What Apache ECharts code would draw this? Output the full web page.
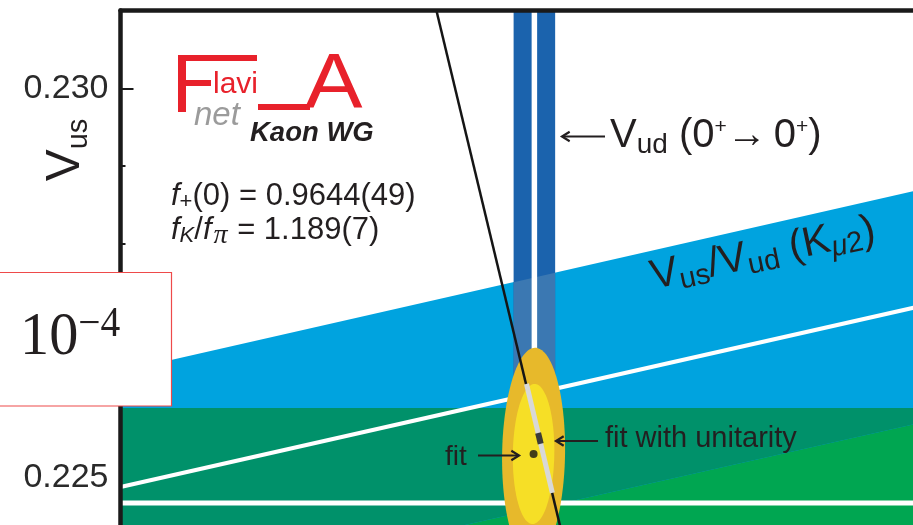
<!DOCTYPE html>
<html>
<head>
<meta charset="utf-8">
<script src="https://cdn.jsdelivr.net/npm/echarts@6/dist/echarts.min.js"></script>
<style>
  html, body { margin: 0; padding: 0; background: #fff; }
  #chart { width: 913px; height: 525px; }
</style>
</head>
<body>
<div id="chart"></div>
<script>
// Axis ranges: |Vud| horizontal, |Vus| vertical
const vudRange = [0.969, 0.980];
const vusRange = [0.224, 0.231];
const vusTickLabels = [0.225, 0.230];

// |Vud| from superallowed 0+ -> 0+ nuclear beta decays: [central, sigma]
const vudNuclear = [0.97418, 0.00026];
// |Vus| from Kl3 decays with f+(0) = 0.9644(49): [central, sigma]
const vusKl3 = [0.22467, 0.00122];
// |Vus/Vud| from Kmu2 decays with fK/fpi = 1.189(7): [central, sigma]
const ratioKmu2 = [0.23207, 0.00153];

// Unconstrained fit: centre [Vud, Vus], sigmas, correlation, contour levels (delta chi2)
const fitCenter = [0.97417, 0.2253];
const fitSigma = [0.00026, 0.0009];
const fitCorrelation = 0.05;
const fitContours = [2.3, 1.0];

// Unitarity |Vud|^2 + |Vus|^2 = 1 across the plotted Vus range: [Vud, Vus]
const unitarityLine = [[0.974589, 0.224], [0.972954, 0.231]];
// Fit with unitarity: point and its 1 sigma stretch along the unitarity line
const unitarityFit = [0.974243, 0.2255];
const unitarityFitRange = [[0.974405, 0.2248], [0.974081, 0.2262]];

const FONT = "'Liberation Sans', Arial, Helvetica, sans-serif";
const SERIF = "'Liberation Serif', 'DejaVu Serif', serif";
const INK = '#231F20';
const RED = '#E8212B';

const C = {
  kl3: '#00A651',
  kmu2: '#00A3DF',
  kl3Kmu2: '#00916A',
  vud: '#1B63AD',
  vudKmu2: '#3B78B2',
  outer: '#E7B92B',
  inner: '#F6DF26'
};

// ---- band geometry in data space ----
const kl3Lo = vusKl3[0] - vusKl3[1], kl3Hi = vusKl3[0] + vusKl3[1];
const rLo = ratioKmu2[0] - ratioKmu2[1], rHi = ratioKmu2[0] + ratioKmu2[1];
const vLo = vudNuclear[0] - vudNuclear[1], vHi = vudNuclear[0] + vudNuclear[1];
const x0 = vudRange[0], x1 = vudRange[1], y0 = vusRange[0], y1 = vusRange[1];

const kl3Band = [[x0, kl3Lo], [x1, kl3Lo], [x1, kl3Hi], [x0, kl3Hi]];
const kmu2Band = [[x0, rLo * x0], [x1, rLo * x1], [x1, rHi * x1], [x0, rHi * x0]];
const vudBand = [[vLo, y0], [vHi, y0], [vHi, y1], [vLo, y1]];

// clip a polygon by half-planes f(p) >= 0 (linear in data space)
function clipHalf(poly, f) {
  const out = [];
  for (let i = 0; i < poly.length; i++) {
    const a = poly[i], b = poly[(i + 1) % poly.length];
    const fa = f(a), fb = f(b);
    if (fa >= 0) out.push(a);
    if ((fa >= 0) !== (fb >= 0)) {
      const t = fa / (fa - fb);
      out.push([a[0] + t * (b[0] - a[0]), a[1] + t * (b[1] - a[1])]);
    }
  }
  return out;
}
function clipAll(poly, fs) { return fs.reduce((p, f) => clipHalf(p, f), poly); }

const insideKl3 = [p => p[1] - kl3Lo, p => kl3Hi - p[1]];
const insideKmu2 = [p => p[1] - rLo * p[0], p => rHi * p[0] - p[1]];
const kl3Kmu2 = clipAll(kmu2Band, insideKl3);
const vudKmu2 = clipAll(vudBand, insideKmu2);

function fitEllipse(dchi2) {
  const k = Math.sqrt(dchi2), pts = [], n = 140;
  const r = fitCorrelation, q = Math.sqrt(1 - r * r);
  for (let i = 0; i < n; i++) {
    const t = 2 * Math.PI * i / n, c = Math.cos(t), s = Math.sin(t);
    pts.push([fitCenter[0] + k * fitSigma[0] * c,
              fitCenter[1] + k * fitSigma[1] * (r * c + q * s)]);
  }
  return pts;
}

function shapeSeries(z, build) {
  return {
    type: 'custom', coordinateSystem: 'cartesian2d', clip: true, silent: true, z: z,
    data: [[fitCenter[0], fitCenter[1]]],
    renderItem: function (params, api) {
      const px = pts => pts.map(d => api.coord(d));
      return { type: 'group', children: build(px) };
    }
  };
}
const poly = (pts, fill) => ({ type: 'polygon', shape: { points: pts }, style: { fill: fill } });
const pline = (pts, stroke, w) => ({ type: 'polyline', shape: { points: pts }, style: { stroke: stroke, lineWidth: w, fill: null } });

// ---- annotations ----
function arrow(xFrom, yFrom, xTo, yTo) {
  const ang = Math.atan2(yTo - yFrom, xTo - xFrom), L = 9, W = 0.55;
  const h1 = [xTo - L * Math.cos(ang - W), yTo - L * Math.sin(ang - W)];
  const h2 = [xTo - L * Math.cos(ang + W), yTo - L * Math.sin(ang + W)];
  return [
    { type: 'line', z: 100, silent: true, shape: { x1: xFrom, y1: yFrom, x2: xTo, y2: yTo },
      style: { stroke: INK, lineWidth: 2.2 } },
    { type: 'polyline', z: 100, silent: true, shape: { points: [h1, [xTo, yTo], h2] },
      style: { stroke: INK, lineWidth: 2.2, fill: null } }
  ];
}
function txt(x, y, style, extra) {
  return Object.assign({
    type: 'text', x: x, y: y, z: 100, silent: true,
    style: Object.assign({ fill: INK, align: 'left', verticalAlign: 'middle', fontFamily: FONT, fontSize: 28 }, style)
  }, extra || {});
}
const tok = (size, more) => Object.assign({ fontSize: size, fontFamily: FONT, fill: INK, verticalAlign: 'middle' }, more || {});
const sub = (size, d, more) => tok(size, Object.assign({ padding: [2 * d, 0, 0, 0] }, more || {}));
const sup = (size, d, more) => tok(size, Object.assign({ padding: [0, 0, 2 * d, 0] }, more || {}));

const graphics = [].concat(
  // logo
  [
    { type: 'rect', z: 100, shape: { x: 178, y: 55, width: 8, height: 57 }, style: { fill: RED } },
    { type: 'rect', z: 100, shape: { x: 178, y: 55, width: 79, height: 6 }, style: { fill: RED } },
    { type: 'rect', z: 100, shape: { x: 178, y: 80, width: 33, height: 6 }, style: { fill: RED } },
    { type: 'rect', z: 100, shape: { x: 258, y: 104, width: 52, height: 6 }, style: { fill: RED } },
    txt(213, 85, { text: 'lavi', fill: RED, fontSize: 30 }),
    txt(305, 87, { text: 'A', fill: RED, fontSize: 77 }, { scaleX: 1.12 }),
    txt(194, 116, { text: 'net', fill: '#9B9B9B', fontStyle: 'italic', fontSize: 33 }),
    txt(250, 133, { text: 'Kaon WG', fontStyle: 'italic', fontWeight: 'bold', fontSize: 27.5 }),

    // form factor inputs
    txt(171, 196, { text: '{f|f}{s|+}{n|(0) = 0.9644(49)}', rich: {
      f: tok(31, { fontStyle: 'italic' }), s: sub(22, 6), n: tok(31) } }),
    txt(171, 230, { text: '{f|f}{s|K}{n|/}{f|f}{p|π}{n| = 1.189(7)}', rich: {
      f: tok(31, { fontStyle: 'italic' }), s: sub(22, 6, { fontStyle: 'italic' }),
      p: tok(28, { fontStyle: 'italic', fontFamily: SERIF, padding: [12, 1, 0, 2] }), n: tok(31) } }),

    // axis title
    txt(66, 150, { text: '{v|V}{s|us}', rich: { v: tok(48), s: sub(29, 13) }, align: 'center' },
        { rotation: Math.PI / 2 }),

    // Vud label
    txt(610, 136, { text: '{v|V}{s|ud}{v| (0}{p|+}{a|→}{v|0}{p|+}{v|)}', rich: {
      v: tok(40), s: sub(28, 9), p: sup(21, 9), a: tok(40, { padding: [0, 7, 0, 0] }) } }),

    // Kmu2 label along the band
    txt(763, 254, { text: '{v|V}{s|us}{v|/V}{s|ud}{v| (K}{m|μ}{s|2}{v|)}',
      rich: { v: tok(41.5), s: sub(29, 9), m: sub(29, 9, { fontStyle: 'italic' }) }, align: 'center' },
      { rotation: 12 * Math.PI / 180 }),

    // fit labels
    txt(445, 457, { text: 'fit', fontSize: 28 }),
    txt(605, 439, { text: 'fit with unitarity', fontSize: 29 }),

    // scale box
    { type: 'rect', z: 110, silent: true, shape: { x: -2, y: 272.5, width: 173.5, height: 133.5 },
      style: { fill: '#fff', stroke: '#EE4A4A', lineWidth: 1.2 } },
    txt(20, 338, { text: '{d|10}{e|−4}', rich: { d: tok(62, { fontFamily: SERIF }), e: sup(42, 13, { fontFamily: SERIF }) } },
        { z: 111, scaleX: 0.94 })
  ],
  arrow(605, 136.5, 562, 136.5),
  arrow(478, 455.5, 519, 455.5),
  arrow(598, 441, 556, 441)
);

const option = {
  animation: false,
  backgroundColor: '#fff',
  grid: { left: 120.5, top: 10.5, width: 878.9, height: 544.6, containLabel: false, outerBoundsMode: 'none' },
  xAxis: [
    { type: 'value', min: vudRange[0], max: vudRange[1], interval: 0.001, position: 'bottom',
      axisLine: { show: false, onZero: false }, axisTick: { inside: true }, axisLabel: { show: false }, splitLine: { show: false } },
    { type: 'value', min: vudRange[0], max: vudRange[1], position: 'top', z: 50,
      axisLine: { show: true, onZero: false, lineStyle: { color: '#1a1a1a', width: 4.5 } },
      axisTick: { show: false }, axisLabel: { show: false }, splitLine: { show: false } }
  ],
  yAxis: [
    { type: 'value', min: vusRange[0], max: vusRange[1], interval: 0.001, position: 'left',
      axisLine: { show: false, onZero: false },
      axisTick: { show: true, inside: true, length: 5, lineStyle: { color: '#1a1a1a', width: 2 } },
      axisLabel: { show: true, customValues: vusTickLabels, formatter: v => v.toFixed(3),
                   fontSize: 34, fontFamily: FONT, color: '#2a2a2a', margin: 12 },
      splitLine: { show: false } },
    { type: 'value', min: vusRange[0], max: vusRange[1], position: 'left',
      axisLine: { show: false, onZero: false },
      axisTick: { show: true, inside: true, length: 13, customValues: vusTickLabels, lineStyle: { color: '#1a1a1a', width: 2 } },
      axisLabel: { show: false }, splitLine: { show: false } },
    { type: 'value', min: vusRange[0], max: vusRange[1], position: 'left', z: 50,
      axisLine: { show: true, onZero: false, lineStyle: { color: '#1a1a1a', width: 4.5 } },
      axisTick: { show: false }, axisLabel: { show: false }, splitLine: { show: false } }
  ],
  series: [
    shapeSeries(2, px => [
      poly(px(kl3Band), C.kl3),
      poly(px(kmu2Band), C.kmu2),
      poly(px(kl3Kmu2), C.kl3Kmu2),
      poly(px(vudBand), C.vud),
      poly(px(vudKmu2), C.vudKmu2)
    ]),
    shapeSeries(3, px => [
      pline(px([[x0, vusKl3[0]], [x1, vusKl3[0]]]), '#fff', 5),
      pline(px([[x0, ratioKmu2[0] * x0], [x1, ratioKmu2[0] * x1]]), '#fff', 4),
      pline(px([[vudNuclear[0], y0], [vudNuclear[0], y1]]), '#fff', 5.5)
    ]),
    shapeSeries(4, px => [
      poly(px(fitEllipse(fitContours[0])), C.outer),
      poly(px(fitEllipse(fitContours[1])), C.inner)
    ]),
    { type: 'line', data: unitarityLine, showSymbol: false, silent: true, z: 5, clip: true,
      lineStyle: { color: '#151515', width: 2.5 } },
    { type: 'line', data: unitarityFitRange, showSymbol: false, silent: true, z: 6, clip: true,
      lineStyle: { color: '#D8D8D8', width: 5 } },
    { type: 'scatter', data: [fitCenter], symbol: 'circle', symbolSize: 8, silent: true, z: 7,
      itemStyle: { color: '#151515' } },
    { type: 'scatter', data: [unitarityFit], symbol: 'rect', symbolSize: [6, 11], symbolRotate: 14,
      silent: true, z: 7, itemStyle: { color: '#151515' } }
  ],
  graphic: { elements: graphics }
};

const chart = echarts.init(document.getElementById('chart'));
chart.setOption(option);
</script>
</body>
</html>
